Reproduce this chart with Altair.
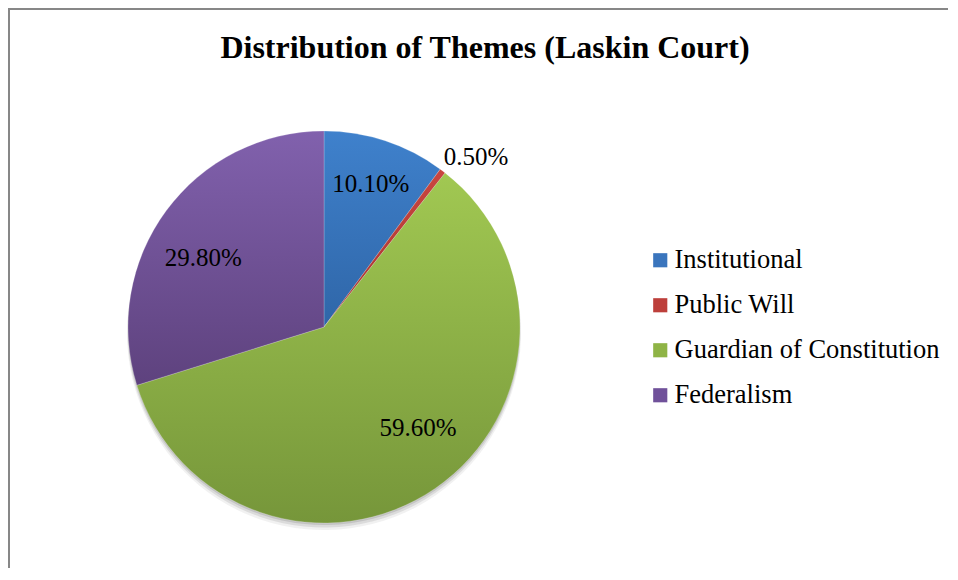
import altair as alt
import pandas as pd

categories = ["Institutional", "Public Will", "Guardian of Constitution", "Federalism"]
values = [10.1, 0.5, 59.6, 29.8]
labels = ["10.10%", "0.50%", "59.60%", "29.80%"]
title_text = "Distribution of Themes (Laskin Court)"

# styles
top_colors = ["#3f81cc", "#c9463f", "#a1c852", "#8161ad"]
bot_colors = ["#2f66a8", "#a53331", "#76963a", "#5e427e"]
legend_colors = ["#3a75bd", "#bd3f3b", "#8fb446", "#70519a"]
label_radius = [150, 228, 150, 150]
label_dx = [0, 14, 9, 0]
label_dy = [0, 11, -23, 20]

W, H = 940, 560
CX, CY, R = 316, 319, 196
FONT = "Liberation Serif"

df = pd.DataFrame({"category": categories, "value": values, "label": labels,
                   "order": list(range(len(categories)))})

theta_scale = alt.Scale(domain=[0, 100])

base = alt.Chart(df).transform_window(
    end="sum(value)", sort=[alt.SortField("order")], frame=[None, 0]
).transform_calculate(
    start="datum.end - datum.value", mid="datum.end - datum.value / 2"
)

layers = []

# border (top and left edges of the chart frame)
frame_df = pd.DataFrame({"k": [0]})
layers.append(alt.Chart(frame_df).mark_rule(color="#878787", strokeWidth=2).encode(
    x=alt.value(0), x2=alt.value(W), y=alt.value(1)))
layers.append(alt.Chart(frame_df).mark_rule(color="#878787", strokeWidth=2).encode(
    x=alt.value(1), y=alt.value(0), y2=alt.value(H)))

# shadow
for off, rad, op in [(6, R + 1, 0.10), (4, R + 0.5, 0.18), (2, R, 0.25)]:
    layers.append(base.mark_arc(radius=rad, fill="#7a7a7a", opacity=op).encode(
        theta=alt.Theta("start:Q", scale=theta_scale, stack=None),
        theta2="end:Q",
        x=alt.value(CX), y=alt.value(CY + off)))

# slices
for i, cat in enumerate(categories):
    grad = alt.Gradient(
        gradient="linear",
        stops=[alt.GradientStop(color=top_colors[i], offset=0),
               alt.GradientStop(color=bot_colors[i], offset=1)],
        x1=0, x2=0, y1=0, y2=1)
    layers.append(base.transform_filter(alt.datum.category == cat).mark_arc(
        radius=R, fill=grad, stroke="#ffffff", strokeWidth=0.4, strokeOpacity=0.5).encode(
        theta=alt.Theta("start:Q", scale=theta_scale, stack=None),
        theta2="end:Q",
        x=alt.value(CX), y=alt.value(CY)))

# labels
for i, cat in enumerate(categories):
    layers.append(base.transform_filter(alt.datum.category == cat).mark_text(
        radius=label_radius[i], font=FONT, fontSize=25, color="#000000",
        dx=label_dx[i], dy=label_dy[i]).encode(
        theta=alt.Theta("mid:Q", scale=theta_scale, stack=None),
        text="label:N",
        x=alt.value(CX), y=alt.value(CY)))

# legend carrier
layers.append(alt.Chart(df).mark_point(shape="square", filled=True, opacity=0).encode(
    color=alt.Color("category:N",
                    scale=alt.Scale(domain=categories, range=legend_colors),
                    legend=alt.Legend(title=None, orient="none", legendX=639, legendY=239,
                                      symbolType="square", symbolSize=200, symbolOpacity=1,
                                      symbolStrokeWidth=0,
                                      labelFont=FONT, labelFontSize=26.5, labelColor="#000000",
                                      labelLimit=400, labelOffset=1, rowPadding=18,
                                      padding=0)),
    x=alt.value(CX), y=alt.value(CY)))

# title
title_df = pd.DataFrame({"t": [title_text]})
layers.append(alt.Chart(title_df).mark_text(
    font=FONT, fontSize=32, fontWeight="bold", color="#000000", baseline="alphabetic",
    align="center").encode(text="t:N", x=alt.value(477), y=alt.value(50)))

chart = alt.layer(*layers).properties(
    width=W, height=H, autosize=alt.AutoSizeParams(type="none"), padding=0
).configure_view(stroke=None)

chart.save("out.html", embed_options={"renderer": "svg", "actions": False})
